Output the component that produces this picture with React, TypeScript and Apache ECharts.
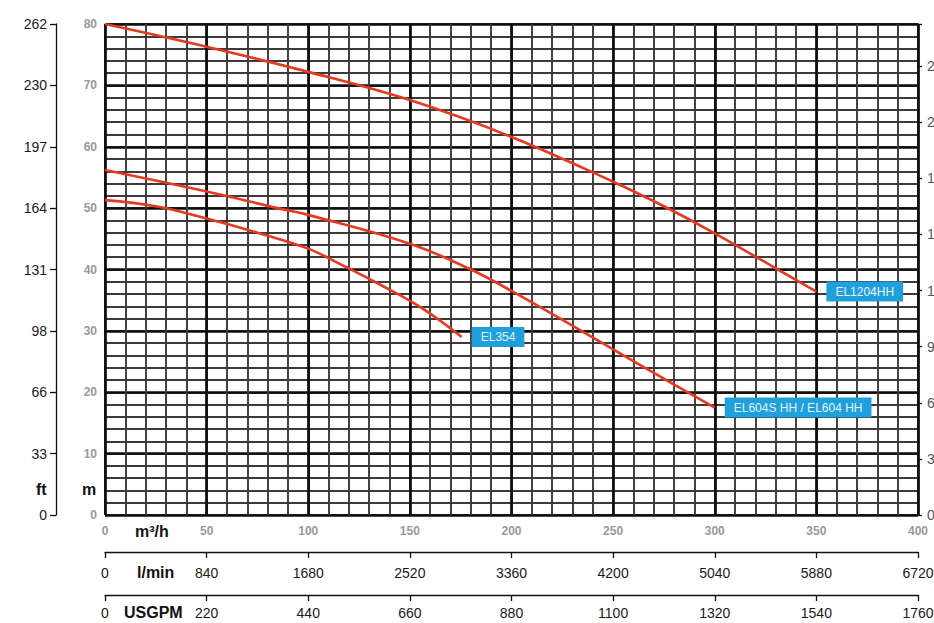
import React, { useEffect, useRef } from "react";
import * as echarts from "echarts";

// ---- data ----
const ftLeftLabels = ["0", "33", "66", "98", "131", "164", "197", "230", "262"];

const el1204Flow = [0, 50, 100, 150, 200, 250, 275, 300, 330, 350];
const el1204Head = [80, 76.3, 72.2, 67.6, 61.6, 54.3, 50.3, 45.9, 40.2, 36.4];

const el604Flow = [0, 50, 85, 100, 150, 180, 200, 250, 275, 300];
const el604Head = [56.2, 52.7, 50, 48.9, 44.2, 40, 36.5, 27, 22.2, 17.5];

const el354Flow = [0, 25, 50, 75, 100, 115, 135, 155, 175.5];
const el354Head = [51.3, 50.3, 48.3, 46.0, 43.4, 41.0, 37.6, 33.9, 29];

const seriesNames = ["EL1204HH", "EL604S HH / EL604 HH", "EL354"];

const FONT = "'Liberation Sans', Arial, Helvetica, sans-serif";

const zip = (xs: number[], ys: number[]) => xs.map((x, i) => [x, ys[i]]);

export default function App() {
  const ref = useRef<HTMLDivElement>(null);

  useEffect(() => {
    if (!ref.current) return;
    const chart = echarts.init(ref.current, null, { renderer: "svg" });

    const minorLine = { show: true, lineStyle: { color: "#3e3838", width: 1.9 } };
    const majorLine = { show: true, lineStyle: { color: "#0e0e0e", width: 2.7 } };
    const blackLine = { show: true, onZero: false, lineStyle: { color: "#111", width: 1.3 } };
    const plain = (v: number) => String(Math.round(v));

    const lineSeries = (name: string, data: number[][]) => ({
      name,
      type: "line",
      xAxisIndex: 0,
      yAxisIndex: 0,
      data,
      smooth: 0.4,
      symbol: "none",
      lineStyle: { color: "#e53a1f", width: 2.6 },
      endLabel: {
        show: true,
        formatter: "{a}",
        distance: 10,
        color: "#e4f4fc",
        backgroundColor: "#1f9fdb",
        fontFamily: FONT,
        fontSize: 12,
        padding: [4, 9, 4, 9],
      },
      z: 10,
    });

    chart.setOption({
      animation: false,
      backgroundColor: "#ffffff",
      grid: {
        left: 105,
        right: 16,
        top: 24,
        bottom: 108,
        containLabel: false,
        outerBoundsMode: "none",
      },
      xAxis: [
        {
          type: "value",
          min: 0,
          max: 400,
          interval: 10,
          position: "bottom",
          axisLine: { show: false, onZero: false },
          axisTick: { show: false },
          axisLabel: { show: false },
          splitLine: minorLine,
        },
        {
          type: "value",
          min: 0,
          max: 400,
          interval: 50,
          position: "bottom",
          axisLine: { show: false, onZero: false },
          axisTick: { show: false },
          axisLabel: {
            show: true,
            margin: 10,
            color: "#999999",
            fontWeight: "bold",
            fontSize: 12,
            fontFamily: FONT,
            formatter: plain,
          },
          splitLine: majorLine,
        },
        {
          type: "value",
          min: 0,
          max: 6720,
          interval: 840,
          position: "bottom",
          offset: 37,
          axisLine: blackLine,
          axisTick: { show: true, length: 6, lineStyle: { color: "#111", width: 1.3 } },
          axisLabel: {
            show: true,
            margin: 14,
            color: "#1a1a1a",
            fontSize: 14,
            fontFamily: FONT,
            formatter: plain,
          },
          splitLine: { show: false },
        },
        {
          type: "value",
          min: 0,
          max: 1760,
          interval: 220,
          position: "bottom",
          offset: 80,
          axisLine: blackLine,
          axisTick: { show: true, length: 6, lineStyle: { color: "#111", width: 1.3 } },
          axisLabel: {
            show: true,
            margin: 11,
            color: "#1a1a1a",
            fontSize: 14,
            fontFamily: FONT,
            formatter: plain,
          },
          splitLine: { show: false },
        },
      ],
      yAxis: [
        {
          type: "value",
          min: 0,
          max: 80,
          interval: 2,
          position: "left",
          axisLine: { show: false, onZero: false },
          axisTick: { show: false },
          axisLabel: { show: false },
          splitLine: minorLine,
        },
        {
          type: "value",
          min: 0,
          max: 80,
          interval: 10,
          position: "left",
          axisLine: { show: false, onZero: false },
          axisTick: { show: false },
          axisLabel: {
            show: true,
            margin: 8,
            color: "#999999",
            fontWeight: "bold",
            fontSize: 12,
            fontFamily: FONT,
            formatter: plain,
          },
          splitLine: majorLine,
        },
        {
          type: "value",
          min: 0,
          max: 80,
          interval: 10,
          position: "left",
          offset: 49,
          axisLine: blackLine,
          axisTick: { show: true, length: 6, lineStyle: { color: "#111", width: 1.3 } },
          axisLabel: {
            show: true,
            margin: 9,
            color: "#1a1a1a",
            fontSize: 14,
            fontFamily: FONT,
            formatter: (v: number) => ftLeftLabels[Math.round(v / 10)] ?? "",
          },
          splitLine: { show: false },
        },
        {
          type: "value",
          min: 0,
          max: 80 / 0.3048,
          interval: 30,
          position: "right",
          offset: 0,
          axisLine: blackLine,
          axisTick: { show: true, length: 4, lineStyle: { color: "#111", width: 1.3 } },
          axisLabel: {
            show: true,
            margin: 9,
            color: "#555",
            fontSize: 14,
            fontFamily: FONT,
            formatter: (v: number) => (Math.abs(v % 30) < 1e-6 ? String(Math.round(v)) : ""),
          },
          splitLine: { show: false },
        },
      ],
      graphic: [
        {
          type: "text",
          left: 36,
          top: 481,
          style: { text: "ft", font: `bold 16px ${FONT}`, fill: "#111" },
        },
        {
          type: "text",
          left: 82,
          top: 481,
          style: { text: "m", font: `bold 16px ${FONT}`, fill: "#111" },
        },
        {
          type: "text",
          left: 135,
          top: 523,
          style: { text: "m³/h", font: `bold 16px ${FONT}`, fill: "#111" },
        },
        {
          type: "text",
          left: 137,
          top: 564,
          style: { text: "l/min", font: `bold 16px ${FONT}`, fill: "#111" },
        },
        {
          type: "text",
          left: 124,
          top: 604,
          style: { text: "USGPM", font: `bold 16px ${FONT}`, fill: "#111" },
        },
      ],
      series: [
        lineSeries(seriesNames[0], zip(el1204Flow, el1204Head)),
        lineSeries(seriesNames[1], zip(el604Flow, el604Head)),
        lineSeries(seriesNames[2], zip(el354Flow, el354Head)),
      ],
    });

    return () => chart.dispose();
  }, []);

  return (
    <div
      ref={ref}
      style={{ position: "absolute", left: 0, top: 0, width: 934, height: 623 }}
    />
  );
}
